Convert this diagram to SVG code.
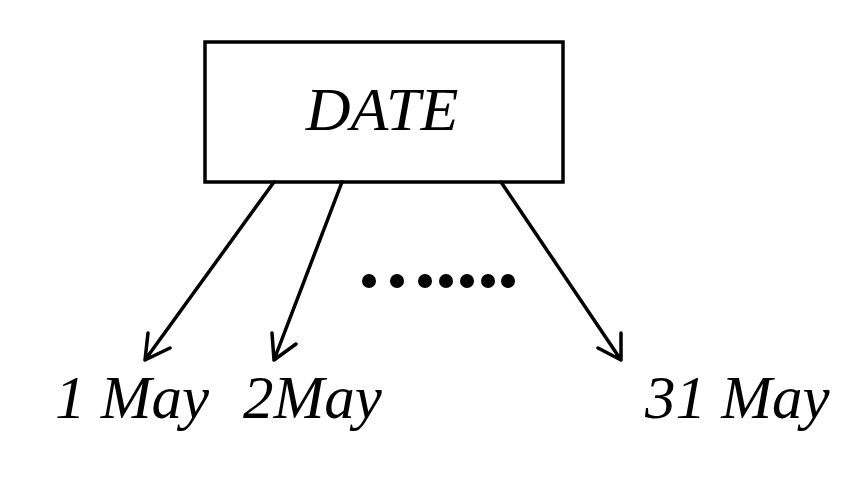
<svg xmlns="http://www.w3.org/2000/svg" width="868" height="489" viewBox="0 0 868 489">
<style>
.t{font-family:"Liberation Serif","Times New Roman",serif;font-style:italic;fill:#000}
.c{stroke:#000;stroke-width:3.5;fill:none;stroke-linecap:round}
.d{fill:#000}
</style>
<rect width="868" height="489" fill="#fff"/>
<g id="date">
<rect x="205" y="42" width="358" height="140" fill="#fff" stroke="#000" stroke-width="3.5"/>
<text class="t" x="382" y="130" font-size="62" text-anchor="middle">DATE</text>
</g>
<g id="connectors">
<path class="c" d="M274,182 L145,360 M145,360 L148,333 M145,360 L170,348"/>
<path class="c" d="M342,182 L274,360 M274,360 L272,333 M274,360 L296,344"/>
<path class="c" d="M501,182 L621,360 M621,360 L621,333 M621,360 L598,348"/>
</g>
<g id="dots">
<circle class="d" cx="369" cy="281" r="7"/>
<circle class="d" cx="397" cy="281" r="7"/>
<circle class="d" cx="425" cy="281" r="7"/>
<circle class="d" cx="446" cy="281" r="7"/>
<circle class="d" cx="467" cy="281" r="7"/>
<circle class="d" cx="488" cy="281" r="7"/>
<circle class="d" cx="508" cy="281" r="7"/>
</g>
<g id="may1"><text class="t" x="55" y="418" font-size="61">1 May</text></g>
<g id="may2"><text class="t" x="243" y="418" font-size="61">2May</text></g>
<g id="may31"><text class="t" x="645" y="418" font-size="61">31 May</text></g>
</svg>
